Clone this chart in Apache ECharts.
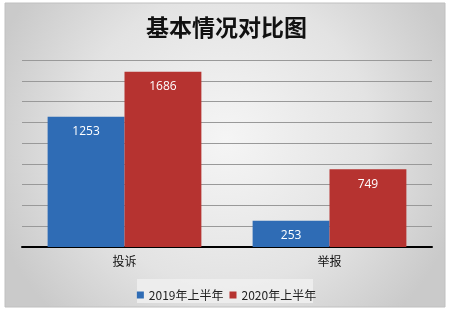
<!DOCTYPE html>
<html><head><meta charset="utf-8">
<script src="https://cdn.jsdelivr.net/npm/echarts@6/dist/echarts.min.js"></script>
<style>html,body{margin:0;padding:0;background:#fff}#c{width:453px;height:315px}</style>
</head><body><div id="c"></div>
<script>
const categories = ['投诉', '举报'];
const seriesNames = ['2019年上半年', '2020年上半年'];
const values2019 = [1253, 253];
const values2020 = [1686, 749];
const colors = ['#2F6CB5', '#B63330'];

const chart = echarts.init(document.getElementById('c'), null, {renderer: 'canvas'});
const labelCfg = {show: true, position: 'insideTop', distance: 9, color: '#fff', fontSize: 12, fontFamily: 'Open Sans, sans-serif'};
chart.setOption({
  animation: false,
  backgroundColor: '#fff',
  graphic: [{
    type: 'rect', z: -10, silent: true,
    shape: {x: 5, y: 3, width: 440, height: 304},
    style: {
      fill: new echarts.graphic.RadialGradient(0.5, 0.45, 0.8, [
        {offset: 0, color: '#f5f5f5'},
        {offset: 0.6, color: '#e3e3e3'},
        {offset: 1, color: '#cacaca'}
      ]),
      stroke: '#c0c0c0', lineWidth: 1
    }
  }, {
    type: 'rect', z: -9, silent: true,
    shape: {x: 137, y: 279, width: 176, height: 24},
    style: {fill: 'rgba(238,238,238,0.9)'}
  }],
  title: {
    text: '基本情况对比图', left: 'center', top: 11,
    textStyle: {fontSize: 23, fontWeight: 'bold', color: '#111', fontFamily: 'Noto Sans CJK SC'}
  },
  legend: {
    data: seriesNames, left: 'center', top: 284, itemWidth: 7, itemHeight: 7, itemGap: 6,
    icon: 'rect',
    textStyle: {fontSize: 12, color: '#222', fontFamily: 'Noto Sans CJK SC'}
  },
  grid: {left: 22, right: 21, top: 60, bottom: 315 - 247},
  xAxis: {
    type: 'category', data: categories,
    axisLine: {lineStyle: {color: '#000', width: 2}},
    axisTick: {show: false},
    axisLabel: {fontSize: 12, color: '#111', margin: 8, fontFamily: 'Noto Sans CJK SC'}
  },
  yAxis: {
    type: 'value', min: 0, max: 1800, interval: 200,
    axisLabel: {show: false}, axisLine: {show: false}, axisTick: {show: false},
    splitLine: {lineStyle: {color: '#999', width: 1}}
  },
  series: [{
    name: seriesNames[0], type: 'bar', data: values2019, barGap: '0%', barCategoryGap: '25%',
    itemStyle: {color: colors[0]}, label: labelCfg
  }, {
    name: seriesNames[1], type: 'bar', data: values2020,
    itemStyle: {color: colors[1]}, label: labelCfg
  }]
});
</script></body></html>
